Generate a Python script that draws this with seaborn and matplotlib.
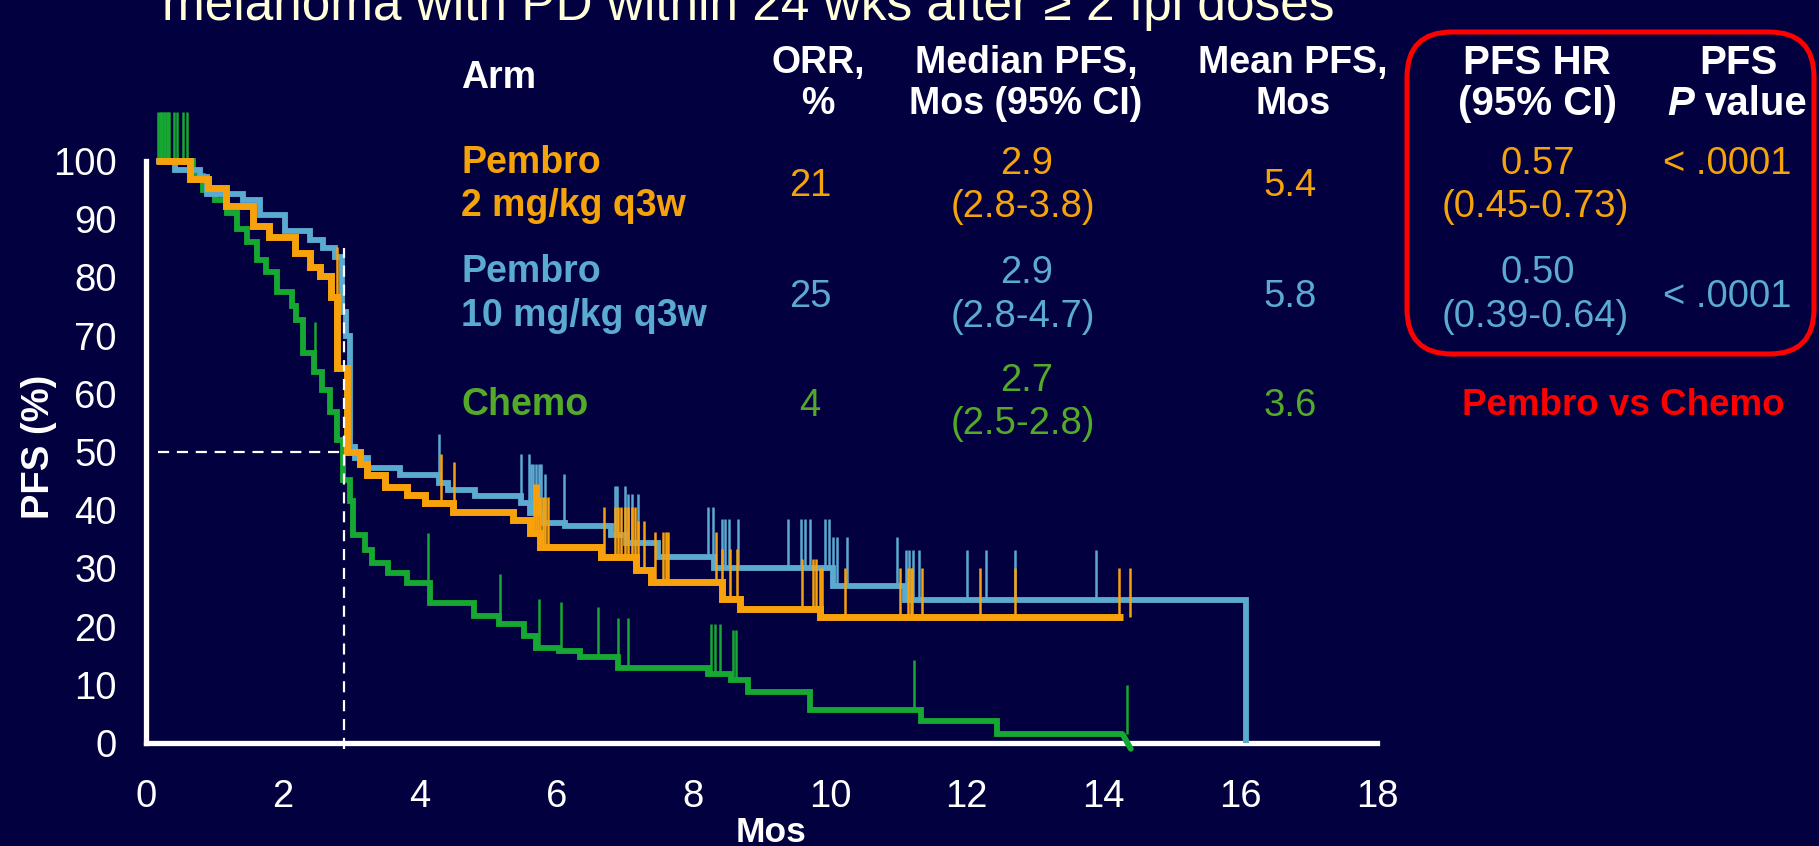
import numpy as np
import pandas as pd
import matplotlib
matplotlib.use("Agg")
import matplotlib.pyplot as plt
import seaborn as sns
from matplotlib.patches import FancyBboxPatch
from matplotlib.transforms import IdentityTransform

# ---------------- data ----------------
pembro2_time = [0.15, 0.64, 0.90, 1.17, 1.56, 1.80, 2.18, 2.40, 2.54, 2.70, 2.80, 2.94, 3.13, 3.23,
                3.49, 3.81, 4.08, 4.49, 5.37, 5.61, 5.76, 6.66, 7.17, 7.39, 8.42, 8.68, 9.85, 14.28]
pembro2_pfs = [100, 96.9, 95.3, 92.3, 88.8, 87.0, 84.2, 81.8, 80.3, 76.7, 64.4, 50.0, 48.0, 46.0,
               44.0, 42.6, 41.2, 39.7, 38.3, 36.0, 33.7, 32.0, 29.7, 27.7, 24.8, 23.1, 21.6, 21.6]
pembro2_censor = [2.79, 4.32, 4.51, 5.67, 5.70, 5.73, 5.76, 5.80, 5.84, 5.88, 6.69, 6.86, 6.90, 6.95,
                  7.00, 7.05, 7.10, 7.15, 7.20, 7.28, 7.44, 7.56, 7.60, 7.63, 8.33, 8.42, 8.54, 8.64,
                  9.59, 9.75, 9.80, 9.85, 9.88, 10.22, 11.02, 11.14, 11.18, 11.20, 11.35, 12.20,
                  12.71, 14.23, 14.39]

pembro10_time = [0.15, 0.42, 0.79, 0.89, 1.42, 1.67, 2.03, 2.40, 2.59, 2.76, 2.87, 2.93, 2.98, 3.05,
                 3.25, 3.71, 4.28, 4.42, 4.81, 5.49, 5.62, 5.80, 6.13, 6.80, 7.02, 7.48, 8.30, 10.05,
                 11.10, 16.08, 16.08]
pembro10_pfs = [100, 98.4, 97.2, 94.3, 93.3, 90.7, 87.9, 86.4, 85.0, 83.5, 74.0, 70.0, 50.9, 49.0,
                47.2, 46.0, 44.6, 43.5, 42.4, 41.2, 39.5, 37.8, 37.2, 35.7, 34.3, 32.0, 30.0, 26.9,
                24.6, 24.6, 0]
pembro10_censor = [2.87, 4.28, 5.49, 5.60, 5.63, 5.66, 5.70, 5.74, 5.78, 5.83, 6.11, 6.86, 6.89,
                   7.00, 7.05, 7.10, 7.20, 8.22, 8.29, 8.42, 8.47, 8.52, 8.65, 9.39, 9.58, 9.63,
                   9.71, 9.93, 9.98, 10.05, 10.10, 10.25, 10.98, 11.11, 11.15, 11.22, 11.30, 12.00,
                   12.28, 12.71, 13.89]

chemo_time = [0.15, 0.69, 0.84, 1.01, 1.18, 1.33, 1.47, 1.62, 1.76, 1.91, 2.13, 2.20, 2.30, 2.45,
              2.57, 2.69, 2.79, 2.88, 2.98, 3.03, 3.20, 3.30, 3.54, 3.81, 4.15, 4.79, 5.16, 5.53,
              5.70, 6.04, 6.34, 6.90, 8.22, 8.56, 8.80, 9.71, 11.33, 12.44, 14.28]
chemo_pfs = [100, 97.4, 95.0, 93.3, 91.0, 88.4, 86.1, 83.0, 81.0, 77.5, 75.0, 72.7, 67.0, 63.8,
             60.7, 56.9, 52.1, 45.2, 41.5, 35.7, 33.2, 30.9, 29.2, 27.5, 24.0, 21.8, 20.5, 18.3,
             16.3, 15.8, 14.8, 12.9, 11.9, 10.9, 8.8, 5.7, 3.7, 1.5, 1.5]
chemo_tail_time = [14.28, 14.40]
chemo_tail_pfs = [1.5, -1.0]
chemo_censor = [0.18, 0.20, 0.22, 0.24, 0.26, 0.28, 0.30, 0.32, 0.34, 0.41, 0.46, 0.54, 0.60, 2.47,
                4.12, 5.18, 5.74, 6.07, 6.61, 6.90, 7.05, 8.26, 8.32, 8.39, 8.58, 8.62, 11.23, 14.34]

median_line = 2.9
x_ticks = [0, 2, 4, 6, 8, 10, 12, 14, 16, 18]
y_ticks = [0, 10, 20, 30, 40, 50, 60, 70, 80, 90, 100]

title_text = "melanoma with PD within 24 wks after \u2265 2 Ipi doses"
arm_line1 = ["Pembro", "Pembro", "Chemo"]
arm_line2 = ["2 mg/kg q3w", "10 mg/kg q3w", ""]
orr_values = ["21", "25", "4"]
median_values = ["2.9", "2.9", "2.7"]
median_ci = ["(2.8-3.8)", "(2.8-4.7)", "(2.5-2.8)"]
mean_values = ["5.4", "5.8", "3.6"]
hr_values = ["0.57", "0.50"]
hr_ci = ["(0.45-0.73)", "(0.39-0.64)"]
p_values = ["< .0001", "< .0001"]

# ---------------- style ----------------
BG = "#02003E"
ORANGE = "#F7A20C"
BLUE = "#5BAAD0"
GREEN = "#16A832"
T_ORANGE = "#F5A30A"
T_BLUE = "#5AAAD2"
T_GREEN = "#52AA28"
RED = "#FF0000"
CREAM = "#FFFFD8"

sns.set_theme(style="white", rc={"axes.facecolor": BG, "figure.facecolor": BG})
plt.rcParams["font.family"] = ["Liberation Sans", "DejaVu Sans"]

W, H = 1819, 846
fig = plt.figure(figsize=(W / 100, H / 100), dpi=100, facecolor=BG)
ax = fig.add_axes([146 / W, 1 - 743 / H, (1377 - 146) / W, (743 - 161) / H])
ax.set_facecolor(BG)


def draw_arm(t, s, color, lw, censor, z):
    df = pd.DataFrame({"t": t, "s": s})
    sns.lineplot(data=df, x="t", y="s", drawstyle="steps-post", estimator=None, sort=False,
                 color=color, linewidth=lw, ax=ax, clip_on=False, legend=False, zorder=z,
                 solid_joinstyle="miter", solid_capstyle="butt")
    t_arr = np.asarray(t, dtype=float)
    s_arr = np.asarray(s, dtype=float)
    idx = np.searchsorted(t_arr, np.asarray(censor), side="right") - 1
    base = s_arr[idx]
    ax.vlines(censor, base, base + 8.5, color=color, lw=1.8, clip_on=False, zorder=z + 0.5)


draw_arm(chemo_time, chemo_pfs, GREEN, 4.2, chemo_censor, 3)
sns.lineplot(x=chemo_tail_time, y=chemo_tail_pfs, color=GREEN, linewidth=4.2, ax=ax,
             clip_on=False, legend=False, zorder=3, estimator=None, sort=False)
draw_arm(pembro10_time, pembro10_pfs, BLUE, 4.2, pembro10_censor, 4)
draw_arm(pembro2_time, pembro2_pfs, ORANGE, 5.0, pembro2_censor, 5)

# median reference lines
ax.hlines(50, 0.18, median_line, colors="white", lw=1.6, linestyles=(0, (5, 3.5)), zorder=6,
          clip_on=False)
ax.vlines(median_line, -1, 85, colors="white", lw=1.6, linestyles=(0, (5, 3.5)), zorder=6,
          clip_on=False)

ax.set_xlim(0, 18)
ax.set_ylim(0, 100)
ax.set_xticks(x_ticks)
ax.set_yticks(y_ticks)
ax.set_xticklabels([str(v) for v in x_ticks])
ax.set_yticklabels([str(v) for v in y_ticks])
ax.tick_params(axis="both", direction="out", length=10, width=3.8, colors="white",
               labelsize=27.5, labelcolor="white")
ax.tick_params(axis="x", pad=16)
ax.tick_params(axis="y", pad=11)
for side in ["top", "right"]:
    ax.spines[side].set_visible(False)
for side in ["left", "bottom"]:
    ax.spines[side].set_color("white")
    ax.spines[side].set_linewidth(3.8)
ax.grid(False)

ax.set_xlabel("Mos", fontsize=25.5, fontweight="bold", color="white")
ax.xaxis.label.set_va("center")
ax.xaxis.set_label_coords((771 - 146) / 1231, -(832 - 743) / 582)
ax.set_ylabel("PFS (%)", fontsize=27.5, fontweight="bold", color="white")
ax.yaxis.label.set_va("center")
ax.yaxis.set_label_coords((39 - 146) / 1231, (743 - 447) / 582)


# ---------------- table text ----------------
def put(x, yc, s, size, color, weight="normal", ha="center", style="normal"):
    base = yc + 0.358 * size * 100 / 72
    fig.text(x / W, 1 - base / H, s, fontsize=size, color=color, fontweight=weight,
             ha=ha, va="baseline", fontstyle=style)


fig.text(162 / W, 1 - 20 / H, title_text, fontsize=37, color=CREAM, ha="left", va="baseline")

HS = 27
BS = 29
put(461, 75, "Arm", HS, "white", "bold", ha="left")
put(818, 60, "ORR,", HS, "white", "bold")
put(818, 101, "%", HS, "white", "bold")
put(1026, 60, "Median PFS,", HS, "white", "bold")
put(1026, 101, "Mos (95% CI)", HS, "white", "bold")
put(1293, 60, "Mean PFS,", HS, "white", "bold")
put(1293, 101, "Mos", HS, "white", "bold")
put(1537, 60, "PFS HR", BS, "white", "bold")
put(1537, 101, "(95% CI)", BS, "white", "bold")
put(1738, 60, "PFS", BS, "white", "bold")
put(1667, 101, "P", BS, "white", "bold", ha="left", style="italic")
put(1705, 101, "value", BS, "white", "bold", ha="left")

VS = 27.5
AS = 27
row_colors = [T_ORANGE, T_BLUE, T_GREEN]
row_l1 = [160, 269, 377]
row_l2 = [203, 313, 420]
row_mid = [182, 293, 402]
for i in range(3):
    c = row_colors[i]
    if arm_line2[i]:
        put(461, row_l1[i], arm_line1[i], AS, c, "bold", ha="left")
        put(461, row_l2[i], arm_line2[i], AS, c, "bold", ha="left")
    else:
        put(461, row_mid[i], arm_line1[i], AS, c, "bold", ha="left")
    put(810, row_mid[i], orr_values[i], VS, c)
    put(1027, row_l1[i], median_values[i], VS, c)
    put(1023, row_l2[i], median_ci[i], VS, c)
    put(1290, row_mid[i], mean_values[i], VS, c)

put(1538, 160, hr_values[0], VS, T_ORANGE)
put(1535, 203, hr_ci[0], VS, T_ORANGE)
put(1727, 160, p_values[0], VS, T_ORANGE)
put(1538, 269, hr_values[1], VS, T_BLUE)
put(1535, 313, hr_ci[1], VS, T_BLUE)
put(1727, 293, p_values[1], VS, T_BLUE)

put(1623, 402, "Pembro vs Chemo", 26.5, RED, "bold")

box = FancyBboxPatch((1407, H - 354), 1814 - 1407, 354 - 32,
                     boxstyle="round,pad=0,rounding_size=45", transform=IdentityTransform(),
                     fill=False, ec=RED, lw=3.6)
fig.add_artist(box)

fig.savefig("out.png", dpi=100, facecolor=BG)
